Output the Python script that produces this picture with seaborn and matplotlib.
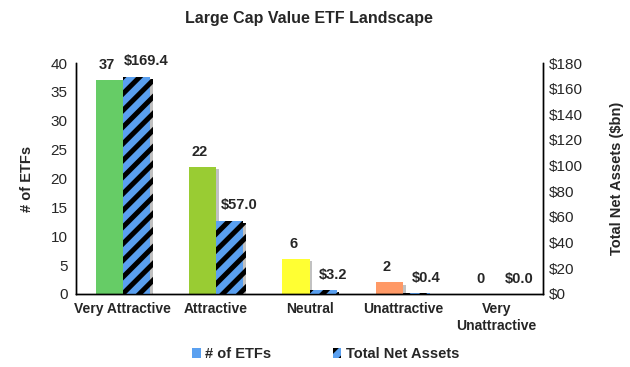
import numpy as np
import pandas as pd
import matplotlib
matplotlib.use("Agg")
import matplotlib.pyplot as plt
import matplotlib.patheffects as pe
from matplotlib.patches import Patch
from matplotlib.ticker import FuncFormatter
import seaborn as sns

categories = ["Very Attractive", "Attractive", "Neutral", "Unattractive", "Very\nUnattractive"]
num_etfs = [37, 22, 6, 2, 0]
tna_bn = [169.4, 57.0, 3.2, 0.4, 0.0]
count_labels = ["37", "22", "6", "2", "0"]
tna_labels = ["$169.4", "$57.0", "$3.2", "$0.4", "$0.0"]
cat_colors = ["#66CC66", "#99CC33", "#FFFF33", "#FF9966", "#FF6666"]
tna_color = "#5AA0F0"

sns.set_theme(style="white")
plt.rcParams["font.family"] = ["Liberation Sans", "DejaVu Sans"]
plt.rcParams["hatch.linewidth"] = 3.6
plt.rcParams["hatch.color"] = "black"

fig = plt.figure(figsize=(6.3, 3.67), dpi=100)
ax = fig.add_axes([0.1206, 0.199, 0.7414, 0.6293])
ax2 = ax.twinx()

pos = np.arange(len(categories))
bw = 0.29
df = pd.DataFrame({"pos": pos - bw / 2, "cat": categories, "n": num_etfs})
df2 = pd.DataFrame({"pos": pos + bw / 2, "cat": categories, "tna": tna_bn})

shadow = [pe.SimplePatchShadow(offset=(2, -1.5), shadow_rgbFace="#999999", alpha=0.6), pe.Normal()]

sns.barplot(data=df, x="pos", y="n", hue="cat", palette=cat_colors, native_scale=True,
            width=bw, dodge=False, legend=False, ax=ax, saturation=1, linewidth=0)
sns.barplot(data=df2, x="pos", y="tna", native_scale=True, color=tna_color,
            width=bw, ax=ax2, saturation=1, linewidth=0)
for p in ax.patches:
    p.set_path_effects(shadow)
for p in ax2.patches:
    p.set_hatch("//")
    p.set_edgecolor("black")
    p.set_linewidth(0)
    p.set_path_effects(shadow)

ax.set_xlim(-0.5, len(categories) - 0.5)
ax.set_ylim(0, 40)
ax2.set_ylim(0, 180)
ax.set_yticks(np.arange(0, 41, 5))
ax2.set_yticks(np.arange(0, 181, 20))
ax2.yaxis.set_major_formatter(FuncFormatter(lambda v, _: f"${v:.0f}"))

ax.set_xticks(pos)
ax.set_xticklabels(categories, fontsize=10, fontweight="bold")
ax.set_xticks(np.arange(-0.5, len(categories), 1), minor=True)
ax.tick_params(axis="x", which="major", length=0, pad=6)
ax.tick_params(axis="x", which="minor", length=4, width=1, color="black", direction="out")
ax.tick_params(axis="y", length=0, labelsize=11, pad=6)
ax2.tick_params(axis="y", length=0, labelsize=11, pad=4)
ax.set_xlabel("")
ax.set_ylabel("# of ETFs", fontsize=10.5, fontweight="bold", labelpad=12)
ax2.set_ylabel("Total Net Assets ($bn)", fontsize=10.5, fontweight="bold", labelpad=20)
ax2.set_xlabel("")

for a in (ax, ax2):
    a.spines["top"].set_visible(False)
    for s in ("left", "right", "bottom"):
        a.spines[s].set_color("black")
        a.spines[s].set_linewidth(1)
    a.grid(False)

for x, v, t in zip(pos - bw / 2, num_etfs, count_labels):
    ax.annotate(t, (x, v), xytext=(-2, 6), textcoords="offset points", ha="center",
                va="bottom", fontsize=10.5, fontweight="bold")
for x, v, t in zip(pos + bw / 2, tna_bn, tna_labels):
    ax2.annotate(t, (x, v), xytext=(7, 6), textcoords="offset points", ha="center",
                 va="bottom", fontsize=10.5, fontweight="bold")

fig.suptitle("Large Cap Value ETF Landscape", x=0.49, y=0.97, fontsize=11.5, fontweight="bold")

handles = [Patch(facecolor=tna_color, edgecolor="none"),
           Patch(facecolor=tna_color, edgecolor="black", hatch="//", linewidth=0)]
leg = fig.legend(handles, ["# of ETFs", "Total Net Assets"], loc="center", bbox_to_anchor=(0.517, 0.035),
                 ncol=2, frameon=False, handlelength=0.6, handleheight=0.6,
                 handletextpad=0.3, columnspacing=4.2, prop={"weight": "bold", "size": 10.5})

fig.savefig("out.png", dpi=100)
